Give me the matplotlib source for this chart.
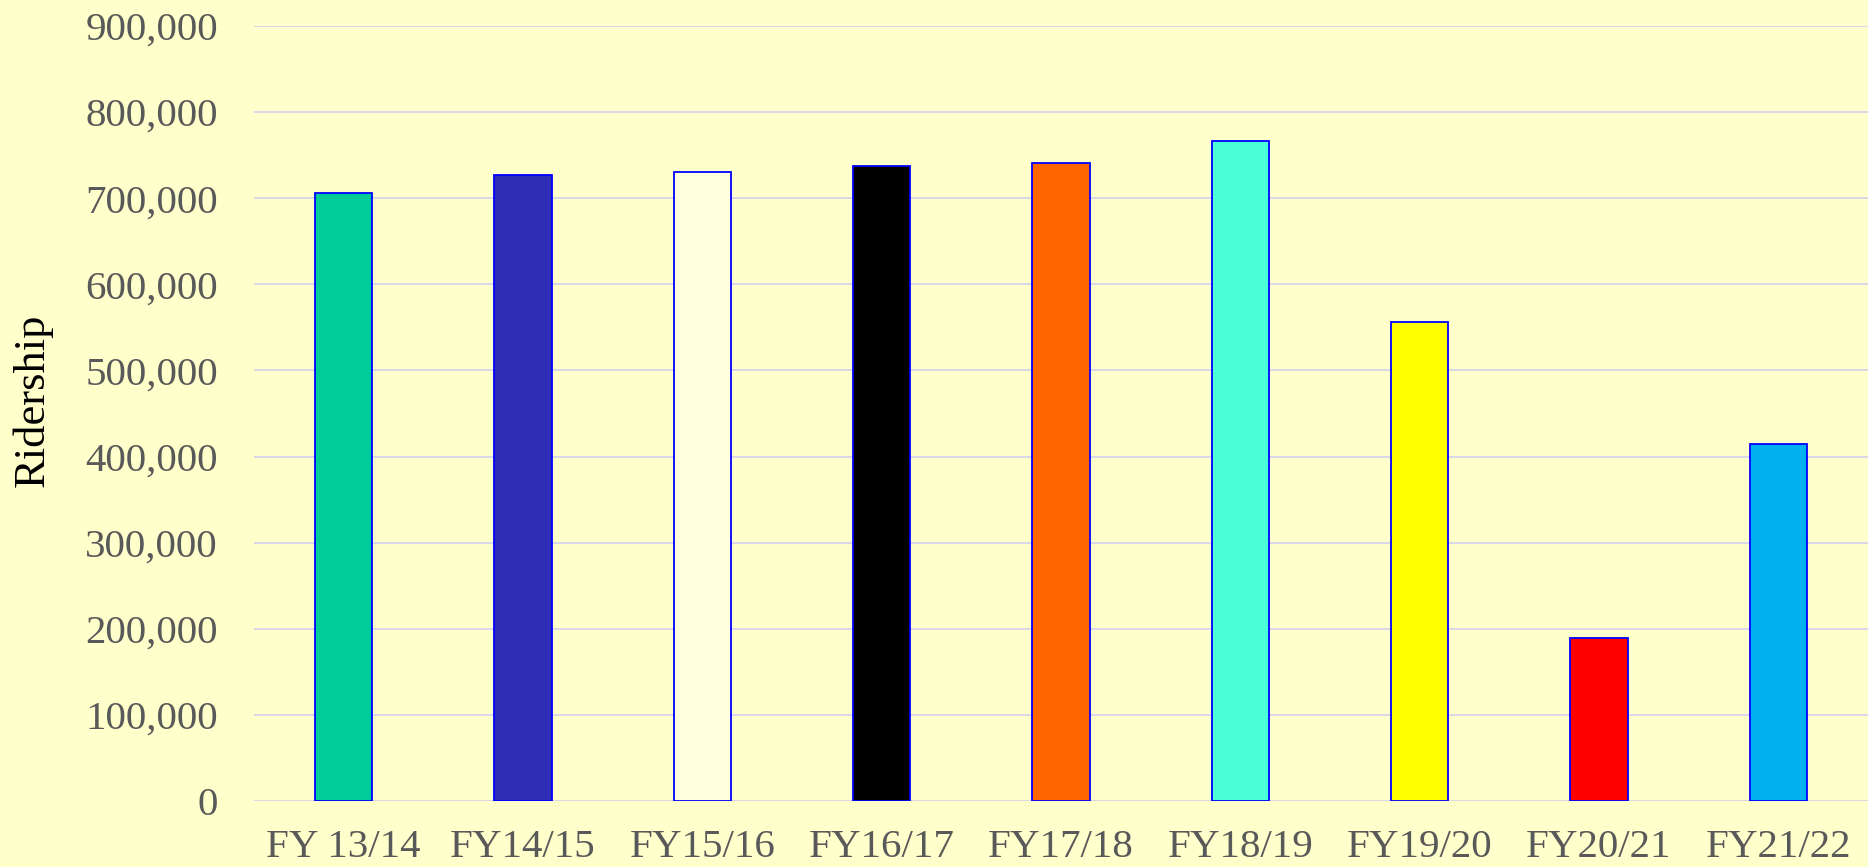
import matplotlib.pyplot as plt
from matplotlib.ticker import FuncFormatter

years = ['FY 13/14', 'FY14/15', 'FY15/16', 'FY16/17', 'FY17/18',
         'FY18/19', 'FY19/20', 'FY20/21', 'FY21/22']
ridership = [706000, 727000, 730000, 738000, 741000, 767000, 556000, 189000, 415000]
bar_colors = ['#00CC99', '#2E2DB8', '#FFFFDD', '#000000', '#FF6600',
              '#4BFFD6', '#FFFF00', '#FF0000', '#00B0F0']

bg = '#FFFFCC'
grey = '#595959'

fig = plt.figure(figsize=(18.68, 8.67), dpi=100, facecolor=bg)
ax = fig.add_axes([0.136, 0.076, 0.864, 0.894])
ax.set_facecolor(bg)

ax.bar(range(len(years)), ridership, width=0.32, color=bar_colors,
       edgecolor='#0000FF', linewidth=1.3, zorder=3)

ax.set_xlim(-0.5, len(years) - 0.5)
ax.set_ylim(0, 900000)
ax.set_yticks(range(0, 900001, 100000))
ax.yaxis.set_major_formatter(FuncFormatter(lambda v, p: f'{int(v):,}'))
ax.set_xticks(range(len(years)))
ax.set_xticklabels(years)

ax.grid(axis='y', color='#D9D9E6', linewidth=1.5, zorder=0)
ax.set_axisbelow(True)
for s in ax.spines.values():
    s.set_visible(False)

ax.tick_params(axis='y', length=0, pad=26, labelsize=29.5, labelcolor=grey)
ax.tick_params(axis='x', length=0, pad=20, labelsize=29.5, labelcolor=grey)
for lbl in ax.get_xticklabels() + ax.get_yticklabels():
    lbl.set_fontfamily('Liberation Serif')

ax.set_ylabel('Ridership', fontsize=32, family='Liberation Serif', color='black')
ax.yaxis.set_label_coords(-0.125, 0.517)

plt.savefig('out.png', dpi=100, facecolor=bg)
